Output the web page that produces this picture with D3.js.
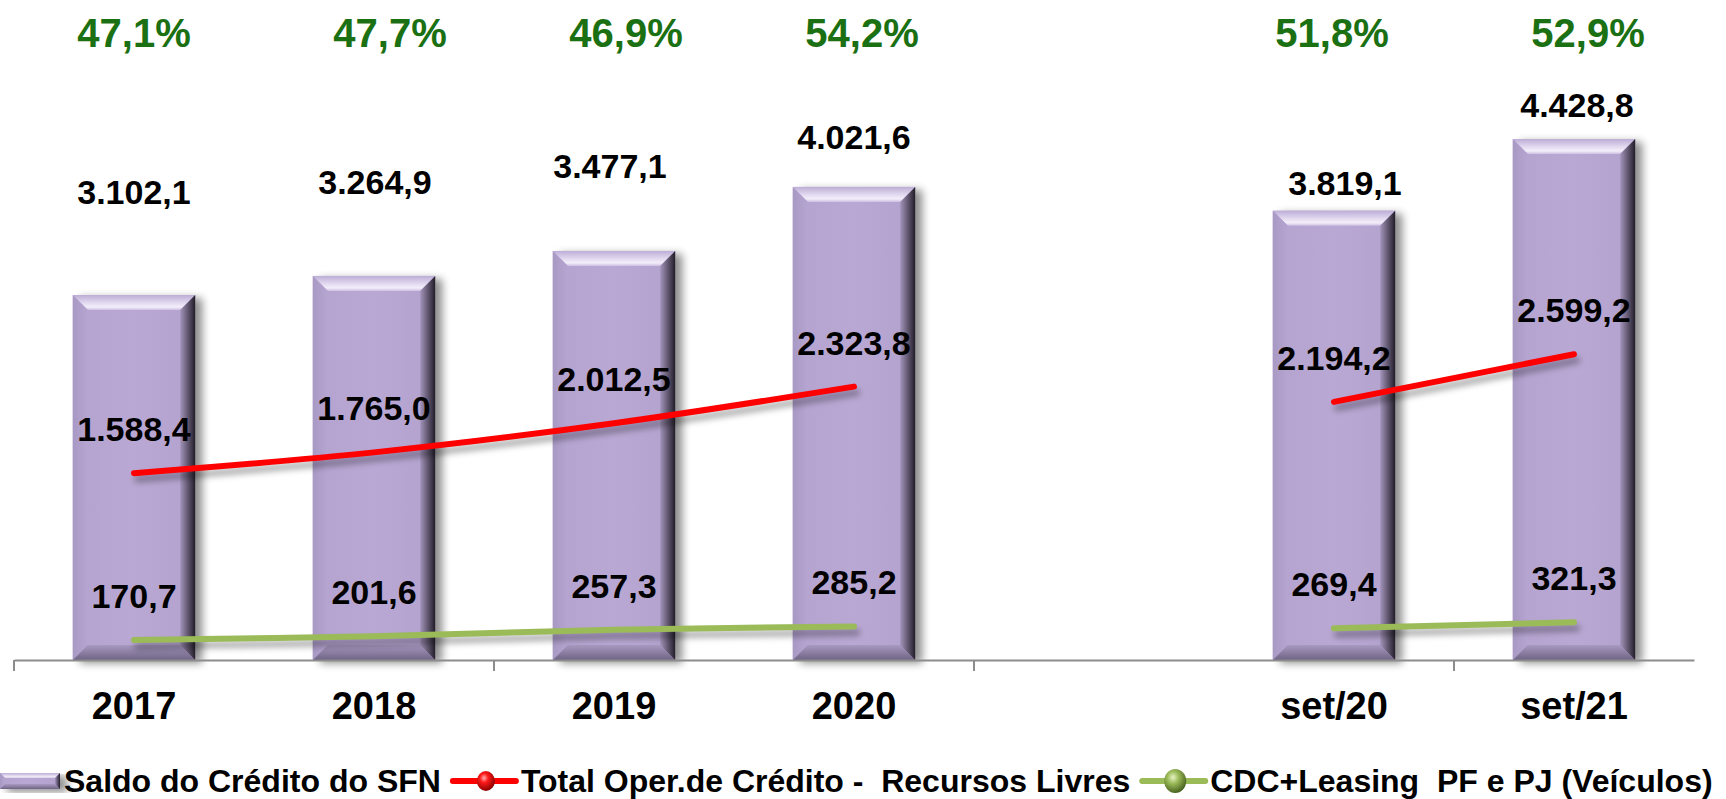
<!DOCTYPE html>
<html><head><meta charset="utf-8">
<script src="https://cdn.jsdelivr.net/npm/d3@7"></script>
<style>body{margin:0;background:#fff} svg{display:block}</style>
</head><body><svg id="c" width="1726" height="799"></svg>
<script>
// ---- data ----
const categories = ["2017","2018","2019","2020","","set/20","set/21"];
const saldoSFN = [3102.1,3264.9,3477.1,4021.6,null,3819.1,4428.8];
const recursosLivres = [1588.4,1765.0,2012.5,2323.8,null,2194.2,2599.2];
const cdcLeasing = [170.7,201.6,257.3,285.2,null,269.4,321.3];
const shareLabels = ["47,1%","47,7%","46,9%","54,2%","","51,8%","52,9%"];
const seriesNames = ["Saldo do Crédito do SFN","Total Oper.de Crédito -  Recursos Livres","CDC+Leasing  PF e PJ (Veículos)"];

// ---- layout nudges (manually placed labels in the original) ----
const barLabelLift = [91,82,73,38,0,16,22];
const barLabelDx = [0,1,-4,0,0,11,3];
const shareDx = [0,16,12,8,0,-2,14];

const W = 1726, H = 799;
const svg = d3.select("#c");
svg.append("rect").attr("width",W).attr("height",H).attr("fill","#fff");
const FONT = "'Liberation Sans', Arial, Helvetica, sans-serif";
const loc = d3.formatLocale({decimal:",", thousands:".", grouping:[3], currency:["",""]});
const fmt = loc.format(",.1f");

const x = d3.scaleBand().domain(categories).range([14,1694]).paddingInner(0.49).paddingOuter(0.245);
const y = d3.scaleLinear().domain([0,5000]).range([660,71.8]);
const cx = i => x(categories[i]) + x.bandwidth()/2;

// ---- defs ----
const defs = svg.append("defs");
const f1 = defs.append("filter").attr("id","barShadow").attr("x","-20%").attr("y","-10%").attr("width","150%").attr("height","130%");
f1.append("feGaussianBlur").attr("in","SourceAlpha").attr("stdDeviation",4);
f1.append("feOffset").attr("dx",7).attr("dy",3).attr("result","b");
f1.append("feComponentTransfer").append("feFuncA").attr("type","linear").attr("slope",0.45);
const f2 = defs.append("filter").attr("id","lineShadow").attr("x","-10%").attr("y","-50%").attr("width","120%").attr("height","300%");
f2.append("feGaussianBlur").attr("stdDeviation",3);

function lin(id, x1,y1,x2,y2, stops){
  const g = defs.append("linearGradient").attr("id",id).attr("x1",x1).attr("y1",y1).attr("x2",x2).attr("y2",y2);
  stops.forEach(s=>g.append("stop").attr("offset",s[0]).attr("stop-color",s[1]));
}
lin("gTop",0,0,0,1,[["0%","#bcadd6"],["55%","#e4dcf1"],["80%","#f3eefa"],["100%","#cdbfe2"]]);
lin("gRight",0,0,1,0,[["0%","#a394ba"],["45%","#6a5f7a"],["100%","#221d28"]]);
lin("gLeft",0,0,1,0,[["0%","#a898c4"],["100%","#b6a5d1"]]);
lin("gBottom",0,0,0,1,[["0%","#a899c1"],["100%","#6f6484"]]);
lin("gBody",0,0,1,0,[["0%","#b4a3cf"],["50%","#b9a8d3"],["100%","#b3a2ce"]]);
function rad(id, stops){
  const g = defs.append("radialGradient").attr("id",id).attr("cx","40%").attr("cy","35%").attr("r","65%");
  stops.forEach(s=>g.append("stop").attr("offset",s[0]).attr("stop-color",s[1]));
}
rad("sphRed",[["0%","#ffb0b0"],["35%","#ff1a1a"],["100%","#8a0000"]]);
rad("sphGreen",[["0%","#e6f2c4"],["40%","#9bbb59"],["100%","#4a6420"]]);

// ---- bevelled bar ----
function bevelBar(g, bx, by, bw, bh, b){
  g.append("rect").attr("x",bx).attr("y",by).attr("width",bw).attr("height",bh)
    .attr("fill","#000").attr("filter","url(#barShadow)");
  g.append("rect").attr("x",bx).attr("y",by).attr("width",bw).attr("height",bh).attr("fill","url(#gBody)");
  const P = pts => pts.map(p=>p.join(",")).join(" ");
  g.append("polygon").attr("points",P([[bx,by],[bx+bw,by],[bx+bw-b,by+b],[bx+b,by+b]])).attr("fill","url(#gTop)");
  g.append("polygon").attr("points",P([[bx,by],[bx+b,by+b],[bx+b,by+bh-b],[bx,by+bh]])).attr("fill","url(#gLeft)");
  g.append("polygon").attr("points",P([[bx,by+bh],[bx+b,by+bh-b],[bx+bw-b,by+bh-b],[bx+bw,by+bh]])).attr("fill","url(#gBottom)");
  g.append("polygon").attr("points",P([[bx+bw,by],[bx+bw,by+bh],[bx+bw-b,by+bh-b],[bx+bw-b,by+b]])).attr("fill","url(#gRight)");
}

const barsG = svg.append("g");
saldoSFN.forEach((v,i)=>{
  if(v==null) return;
  const g = barsG.append("g");
  bevelBar(g, x(categories[i]), y(v), x.bandwidth(), y(0)-y(v), 15);
});

// ---- axis ----
const axisG = svg.append("g").attr("transform",`translate(0,${y(0)})`);
axisG.call(d3.axisBottom(x).tickSize(0).tickSizeOuter(0).tickPadding(59));
axisG.select(".domain").attr("stroke","#8c8c8c").attr("stroke-width",2.2);
axisG.selectAll(".tick text").attr("font-family",FONT).attr("font-weight","bold")
  .attr("font-size",38).attr("fill","#000").attr("dy",0);
const boundaries = categories.map((c,i)=> x(c) - (x.step()-x.bandwidth())/2).filter((d,i)=> i%2===0);
axisG.selectAll("line.bt").data(boundaries).enter().append("line").attr("class","bt")
  .attr("x1",d=>d).attr("x2",d=>d).attr("y1",0).attr("y2",11).attr("stroke","#8c8c8c").attr("stroke-width",2);

// ---- lines ----
function drawLine(vals, color){
  const pts = vals.map((v,i)=>({v,i}));
  const line = d3.line().defined(d=>d.v!=null).x(d=>cx(d.i)).y(d=>y(d.v)).curve(d3.curveCatmullRom.alpha(0.5));
  svg.append("path").attr("d",line(pts)).attr("fill","none").attr("stroke","#000").attr("stroke-opacity",0.35)
    .attr("stroke-width",6).attr("stroke-linecap","round").attr("transform","translate(3,6)").attr("filter","url(#lineShadow)");
  svg.append("path").attr("d",line(pts)).attr("fill","none").attr("stroke",color)
    .attr("stroke-width",6).attr("stroke-linecap","round");
}
drawLine(recursosLivres, "#ff0000");
drawLine(cdcLeasing, "#9bbb59");

// ---- labels ----
const lblG = svg.append("g").attr("font-family",FONT).attr("font-weight","bold").attr("text-anchor","middle");
saldoSFN.forEach((v,i)=>{
  if(v==null) return;
  lblG.append("text").attr("x",cx(i)+barLabelDx[i]).attr("y",y(v)-barLabelLift[i])
    .attr("font-size",34).attr("fill","#000").text(fmt(v));
});
[recursosLivres, cdcLeasing].forEach(vals=>{
  vals.forEach((v,i)=>{
    if(v==null) return;
    lblG.append("text").attr("x",cx(i)).attr("y",y(v)-32)
      .attr("font-size",34).attr("fill","#000").text(fmt(v));
  });
});
shareLabels.forEach((t,i)=>{
  if(!t) return;
  lblG.append("text").attr("x",cx(i)+shareDx[i]).attr("y",47)
    .attr("font-size",40).attr("fill","#1a7012").text(t);
});

// ---- legend ----
const lg = svg.append("g").attr("font-family",FONT).attr("font-weight","bold").attr("font-size",32);
const ly = 792, lmid = 781;
let lx = 0;
// item 1: bar symbol
{
  const g = lg.append("g");
  bevelBar(g, lx, lmid-8, 60, 16, 5);
  const t = lg.append("text").attr("x",lx+64).attr("y",ly).attr("xml:space","preserve").style("white-space","pre").text(seriesNames[0]);
  lx = lx + 64 + t.node().getComputedTextLength() + 12;
}
[[seriesNames[1],"#ff0000","url(#sphRed)",10],[seriesNames[2],"#9bbb59","url(#sphGreen)",12]].forEach(([name,color,sph,r])=>{
  lg.append("line").attr("x1",lx).attr("x2",lx+63).attr("y1",lmid).attr("y2",lmid)
    .attr("stroke",color).attr("stroke-width",6).attr("stroke-linecap","round");
  lg.append("ellipse").attr("cx",lx+33).attr("cy",lmid).attr("rx",r-1).attr("ry",r).attr("fill",sph);
  const t = lg.append("text").attr("x",lx+68).attr("y",ly).attr("xml:space","preserve").style("white-space","pre").text(name);
  lx = lx + 68 + t.node().getComputedTextLength() + 12;
});
</script>
</body></html>
